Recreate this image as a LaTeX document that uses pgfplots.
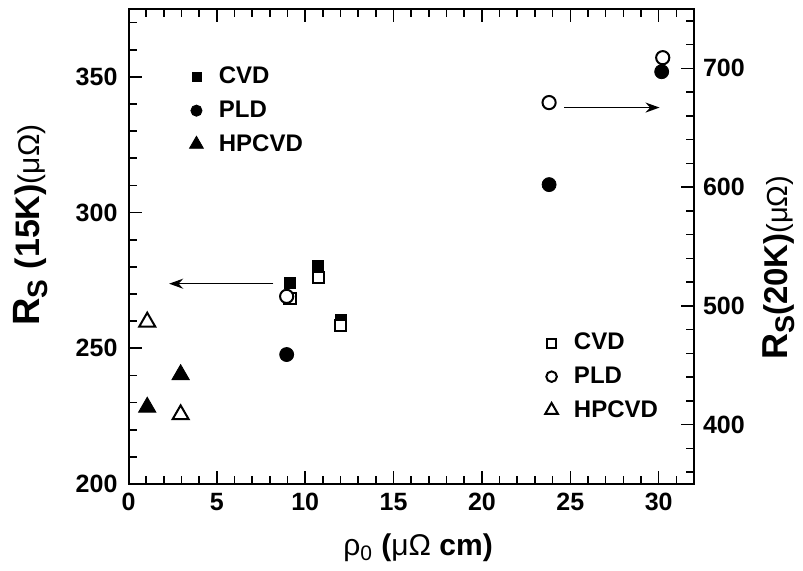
\documentclass[border=0pt]{standalone}
\usepackage{fontspec}
\setmainfont{Liberation Sans}
\usepackage{pgfplots}
\pgfplotsset{compat=1.18}
\usetikzlibrary{arrows.meta}

\pgfplotstableread{
x y
9.14 274.0
10.74 280.5
12.01 260.5
}\cvdL
\pgfplotstableread{
x y
8.95 247.7
23.80 310.3
30.17 351.9
}\pldL
\pgfplotstableread{
x y
1.06 228.3
2.95 240.3
}\hpcvdL
\pgfplotstableread{
x y
9.14 506.2
10.74 524.0
12.01 483.7
}\cvdR
\pgfplotstableread{
x y
8.95 508.0
23.80 671.2
30.23 709.0
}\pldR
\pgfplotstableread{
x y
1.06 486.5
2.95 408.5
}\hpcvdR

\pgfplotsset{
  common/.style={
    at={(0,0)}, anchor=south west,
    width=282.75pt, height=237.5pt, scale only axis,
    xmin=0, xmax=32,
    tick align=inside,
    major tick length=6.5pt, minor tick length=4pt,
    every tick/.style={line width=0.8pt, black},
    axis line style={line width=1pt},
    ticklabel style={font=\bfseries\fontsize{12.5}{14}\selectfont},
    /pgf/number format/assume math mode=true,
    legend cell align=left,
    legend image code/.code={\draw[##1, every mark/.append style={scale=0.8}] plot coordinates {(0pt,0pt)}; \path (-4pt,0pt) (9pt,0pt);},
  },
}

\begin{document}
\begin{tikzpicture}
\useasboundingbox (-64.25pt,-43pt) rectangle (337.25pt,242pt);
\begin{axis}[common,
  ymin=200, ymax=375,
  xtick={0,5,...,30}, minor xtick={1,...,31},
  ytick={200,250,300,350}, minor ytick={210,220,...,370},
  xtick pos=both, ytick pos=left,
  yticklabel style={xshift=-2pt},
  xticklabel style={yshift=-1pt},
  xlabel={\fontsize{15}{17}\selectfont ρ\textsubscript{0} \textbf{(}μΩ \textbf{cm)}},
  xlabel style={at={(axis description cs:0.512,-0.135)}, anchor=center},
  ylabel={\bfseries\fontsize{19}{19}\selectfont R\raisebox{-0.4ex}{\fontsize{14}{14}\selectfont S} \fontsize{17}{17}\selectfont(15K)\mdseries\fontsize{15}{15}\selectfont(μΩ)},
  ylabel style={at={(axis description cs:-0.174,0.545)}, anchor=center},
  legend style={draw=none, fill=none, at={(axis description cs:0.094,0.786)}, anchor=west,
    font=\bfseries\fontsize{12}{13}\selectfont, row sep=3pt},
]
\addplot[only marks, mark=square*, mark size=2.8pt, black] table {\cvdL};
\addlegendentry{CVD}
\addplot[only marks, mark=*, mark size=3.5pt, black] table {\pldL};
\addlegendentry{PLD}
\addplot[only marks, mark=triangle*, mark size=5pt, black] table {\hpcvdL};
\addlegendentry{HPCVD}
\draw[-{Stealth[length=7pt,width=5pt]}, line width=0.8pt] (axis cs:8.2,273.8) -- (axis cs:2.3,273.8);
\end{axis}
\begin{axis}[common,
  ymin=350, ymax=750,
  axis y line*=right, axis x line=none,
  ytick={400,500,600,700}, minor ytick={360,380,...,740},
  yticklabel style={xshift=1pt},
  ylabel={\bfseries\fontsize{18}{18}\selectfont R\raisebox{-0.4ex}{\fontsize{13.5}{13.5}\selectfont S}\fontsize{16.5}{16.5}\selectfont(20K)\mdseries\fontsize{14.5}{14.5}\selectfont(μΩ)},
  ylabel style={at={(axis description cs:1.150,0.455)}, anchor=center, rotate=0},
  legend style={draw=none, fill=none, at={(axis description cs:0.722,0.226)}, anchor=west,
    font=\bfseries\fontsize{12}{13}\selectfont, row sep=3pt},
]
\addplot[only marks, mark=square*, mark size=2.8pt, black, mark options={fill=white, line width=1pt}] table {\cvdR};
\addlegendentry{CVD}
\addplot[only marks, mark=*, mark size=3.3pt, black, mark options={fill=white, line width=1pt}] table {\pldR};
\addlegendentry{PLD}
\addplot[only marks, mark=triangle*, mark size=4.6pt, black, mark options={fill=white, line width=1pt}] table {\hpcvdR};
\addlegendentry{HPCVD}
\draw[-{Stealth[length=7pt,width=5pt]}, line width=0.8pt] (axis cs:24.66,667) -- (axis cs:30.05,667);
\end{axis}
\end{tikzpicture}
\end{document}
